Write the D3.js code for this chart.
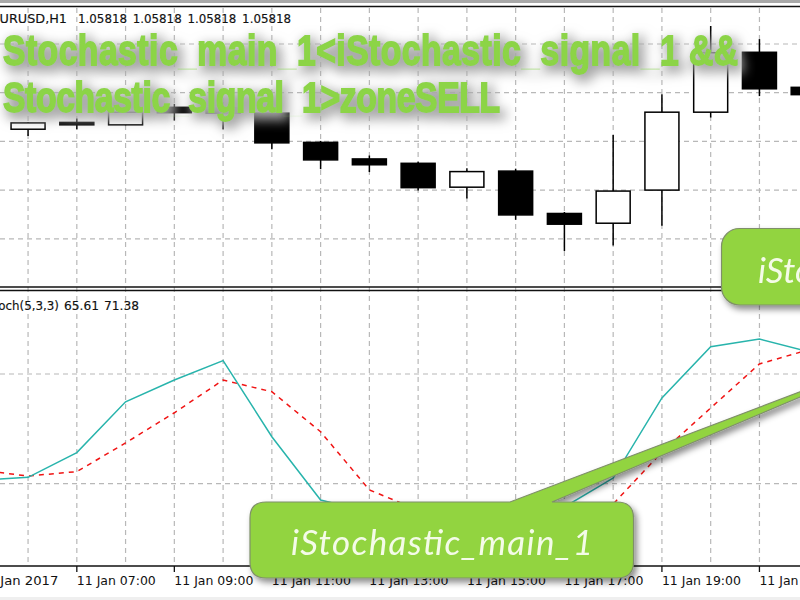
<!DOCTYPE html>
<html>
<head>
<meta charset="utf-8">
<script src="https://cdn.jsdelivr.net/npm/d3@7"></script>
<style>
  html, body { margin: 0; padding: 0; background: #fff; overflow: hidden; }
  svg { display: block; }
</style>
</head>
<body>
<div id="chart"></div>
<script>
// ---- data ----
const hours = ["05:00","06:00","07:00","08:00","09:00","10:00","11:00","12:00","13:00","14:00","15:00","16:00","17:00","18:00","19:00","20:00","21:00","22:00"];
const open  = [null,1.05745,1.05759,1.05754,1.05790,1.05789,1.05778,1.05718,1.05684,1.05675,1.05626,1.05659,1.05572,1.05552,1.05620,1.05780,1.05903,1.05831];
const high  = [null,1.05760,1.05767,1.05793,1.05797,1.05801,1.05784,1.05721,1.05691,1.05678,1.05665,1.05664,1.05575,1.05733,1.05817,1.05957,1.05930,1.05832];
const low   = [null,1.05731,1.05745,1.05753,1.05763,1.05745,1.05704,1.05663,1.05657,1.05619,1.05603,1.05559,1.05495,1.05506,1.05547,1.05769,1.05813,1.05814];
const close = [null,1.05758,1.05754,1.05780,1.05779,1.05778,1.05717,1.05682,1.05672,1.05625,1.05658,1.05569,1.05550,1.05618,1.05780,1.05902,1.05828,1.05816];
const stochMain   = [21.8,23.5,37.0,64.8,76.7,87.3,45.7,11.1,4.5,2.9,1.8,1.8,7.3,23.1,66.9,94.9,99.1,92.2];
const stochSignal = [27.5,24.2,26.6,42.3,58.8,76.7,70.3,48.4,16.6,5.6,2.9,1.8,2.9,8.9,37.3,61.4,85.5,93.2];
const priceLevels = [1.0592,1.0582,1.0572,1.0562,1.0552];
const stochLevels = [80,20];
const tickLabels = {"05:00":"11 Jan 2017","07:00":"11 Jan 07:00","09:00":"11 Jan 09:00","11:00":"11 Jan 11:00","13:00":"11 Jan 13:00","15:00":"11 Jan 15:00","17:00":"11 Jan 17:00","19:00":"11 Jan 19:00","21:00":"11 Jan 21:00"};
const headerValues = ["1.05818","1.05818","1.05818","1.05818"];
const titleLine1 = "Stochastic_main_1<iStochastic_signal_1 &&";
const titleLine2 = "Stochastic_signal_1>zoneSELL";

const W = 800, H = 600;
const svg = d3.select("#chart").append("svg").attr("width", W).attr("height", H);
const defs = svg.append("defs");

// glow + shadow behind the green headline
const glow = defs.append("filter").attr("id", "glow")
  .attr("filterUnits", "userSpaceOnUse")
  .attr("x", -20).attr("y", 0).attr("width", 840).attr("height", 170);
glow.append("feMorphology").attr("in", "SourceAlpha").attr("operator", "dilate").attr("radius", 2).attr("result", "fat");
glow.append("feGaussianBlur").attr("in", "fat").attr("stdDeviation", 6).attr("result", "soft");
glow.append("feOffset").attr("in", "soft").attr("dx", 4).attr("dy", 5).attr("result", "moved");
glow.append("feFlood").attr("flood-color", "#a8a8a8").attr("result", "grey");
glow.append("feComposite").attr("in", "grey").attr("in2", "moved").attr("operator", "in").attr("result", "shadow");
const glowMerge = glow.append("feMerge");
glowMerge.append("feMergeNode").attr("in", "shadow");
glowMerge.append("feMergeNode").attr("in", "SourceGraphic");

const boxShadow = defs.append("filter").attr("id", "boxShadow")
  .attr("x", "-10%").attr("y", "-20%").attr("width", "120%").attr("height", "150%");
boxShadow.append("feDropShadow").attr("dx", 3).attr("dy", 4).attr("stdDeviation", 3)
  .attr("flood-color", "#000").attr("flood-opacity", 0.45);

// ---- scales ----
const x = d3.scalePoint().domain(hours).range([-20.7, 808.2]);
const yPrice = d3.scaleLinear().domain([1.0582, 1.0552]).range([92.7, 238.8]);
const yStoch = d3.scaleLinear().domain([80, 20]).range([374, 483.7]);
const bodyW = 34;

// ---- page frame ----
svg.append("rect").attr("x", 0).attr("y", 0).attr("width", W).attr("height", 3).attr("fill", "#a8a8a8");
svg.append("rect").attr("x", 0).attr("y", 597).attr("width", W).attr("height", 3).attr("fill", "#efefef");

// ---- grid ----
const grid = svg.append("g").attr("stroke", "#b8b8b8").attr("stroke-width", 1.2).attr("stroke-dasharray", "5,4");
grid.selectAll(".v").data(hours.slice(1)).join("line")
  .attr("x1", d => x(d)).attr("x2", d => x(d)).attr("y1", 8).attr("y2", 566);
grid.selectAll(".hp").data(priceLevels).join("line")
  .attr("x1", 0).attr("x2", W).attr("y1", d => yPrice(d)).attr("y2", d => yPrice(d));
grid.selectAll(".hs").data(stochLevels).join("line")
  .attr("x1", 0).attr("x2", W).attr("y1", d => yStoch(d)).attr("y2", d => yStoch(d));

// ---- panel borders ----
[6.5, 287, 290.5, 566].forEach(yy => {
  svg.append("line").attr("x1", 0).attr("x2", W).attr("y1", yy).attr("y2", yy)
    .attr("stroke", "#111").attr("stroke-width", 1.4);
});

// ---- candles ----
const candles = hours.map((h, i) => ({ h, o: open[i], hi: high[i], lo: low[i], c: close[i] })).filter(d => d.o !== null);
const candle = svg.append("g").selectAll("g").data(candles).join("g");
candle.append("line")
  .attr("x1", d => x(d.h)).attr("x2", d => x(d.h))
  .attr("y1", d => yPrice(d.hi)).attr("y2", d => yPrice(d.lo))
  .attr("stroke", "#000").attr("stroke-width", 1.5);
candle.append("rect")
  .attr("x", d => x(d.h) - bodyW / 2)
  .attr("width", bodyW)
  .attr("y", d => yPrice(Math.max(d.o, d.c)))
  .attr("height", d => Math.abs(yPrice(d.o) - yPrice(d.c)))
  .attr("fill", d => d.c >= d.o ? "#fff" : "#000")
  .attr("stroke", "#000").attr("stroke-width", 1.5);

// ---- stochastic lines ----
const line = d3.line().x((d, i) => x(hours[i])).y(d => yStoch(d));
svg.append("path").datum(stochSignal).attr("d", line)
  .attr("fill", "none").attr("stroke", "#f01414").attr("stroke-width", 1.5).attr("stroke-dasharray", "5,5");
svg.append("path").datum(stochMain).attr("d", line)
  .attr("fill", "none").attr("stroke", "#28b4ac").attr("stroke-width", 1.5);

// ---- time axis ----
const labelled = hours.filter(h => tickLabels[h]);
svg.append("g").selectAll("line").data(labelled).join("line")
  .attr("x1", d => x(d)).attr("x2", d => x(d)).attr("y1", 566).attr("y2", 572)
  .attr("stroke", "#111").attr("stroke-width", 1.3);
svg.append("g").selectAll("text").data(labelled).join("text")
  .attr("x", d => x(d))
  .attr("y", 585)
  .attr("font-family", "DejaVu Sans")
  .attr("font-size", 12.5)
  .attr("fill", "#111")
  .attr("textLength", 79)
  .attr("lengthAdjust", "spacingAndGlyphs")
  .text(d => tickLabels[d]);

// ---- small labels ----
const small = svg.append("g").attr("font-family", "DejaVu Sans").attr("font-size", 12.5).attr("fill", "#111")
  .attr("stroke", "#111").attr("stroke-width", 0.15);
small.append("text").attr("x", -8.5).attr("y", 23).attr("textLength", 75.5).attr("lengthAdjust", "spacingAndGlyphs").text("EURUSD,H1");
headerValues.forEach((v, i) => {
  small.append("text").attr("x", 78 + i * 54.7).attr("y", 23).attr("textLength", 49).attr("lengthAdjust", "spacingAndGlyphs").text(v);
});
small.append("text").attr("x", -14).attr("y", 310).attr("textLength", 73).attr("lengthAdjust", "spacingAndGlyphs").text("Stoch(5,3,3)");
small.append("text").attr("x", 64).attr("y", 310).attr("textLength", 35).attr("lengthAdjust", "spacingAndGlyphs").text("65.61");
small.append("text").attr("x", 104).attr("y", 310).attr("textLength", 35).attr("lengthAdjust", "spacingAndGlyphs").text("71.38");

// ---- green headline: condensed heavy glyphs, spaced out, faint underscores ----
const squeeze = 0.8;
const headline = svg.append("g").attr("filter", "url(#glow)")
  .attr("font-family", "Liberation Sans")
  .attr("font-weight", "bold").attr("font-size", 42).attr("fill", "#8cd446");

function addHeadline(str, yy, len, underscoreOpacity) {
  const t = headline.append("text")
    .attr("transform", `translate(3,${yy}) scale(${squeeze},1)`)
    .attr("textLength", len / squeeze)
    .attr("lengthAdjust", "spacing")
    .attr("stroke", "#8cd446").attr("stroke-width", 1.8);
  str.split(/(_)/).forEach(part => {
    const s = t.append("tspan").text(part);
    if (part === "_") s.attr("fill-opacity", underscoreOpacity).attr("stroke", "none");
  });
}
addHeadline(titleLine1, 65, 735, 0.35);
addHeadline(titleLine2, 112, 497, 0.08);

// ---- callouts ----
const calloutFill = "#92d43f", calloutEdge = "#7f8f6a";

const signalBox = svg.append("g").attr("filter", "url(#boxShadow)");
signalBox.append("rect").attr("x", 721.5).attr("y", 228.5).attr("width", 120).attr("height", 76.5).attr("rx", 18)
  .attr("fill", calloutFill).attr("stroke", calloutEdge).attr("stroke-width", 1.2);
signalBox.append("text").attr("x", 758).attr("y", 283)
  .attr("font-family", "Lato").attr("font-style", "italic").attr("font-size", 35).attr("fill", "#f4fbe8")
  .text("iStochastic_signal_1");

const mainBox = svg.append("g").attr("filter", "url(#boxShadow)");
mainBox.append("path")
  .attr("d", "M266,502 H510 L923,345 L552,502 H617 Q633.5,502 633.5,518 V562 Q633.5,578 617,578 H266 Q250,578 250,562 V518 Q250,502 266,502 Z")
  .attr("fill", calloutFill).attr("stroke", calloutEdge).attr("stroke-width", 1.2);
mainBox.append("text").attr("x", 291).attr("y", 555).attr("textLength", 302).attr("lengthAdjust", "spacing")
  .attr("font-family", "Lato").attr("font-style", "italic").attr("font-size", 35).attr("fill", "#f4fbe8")
  .text("iStochastic_main_1");
</script>
</body>
</html>
